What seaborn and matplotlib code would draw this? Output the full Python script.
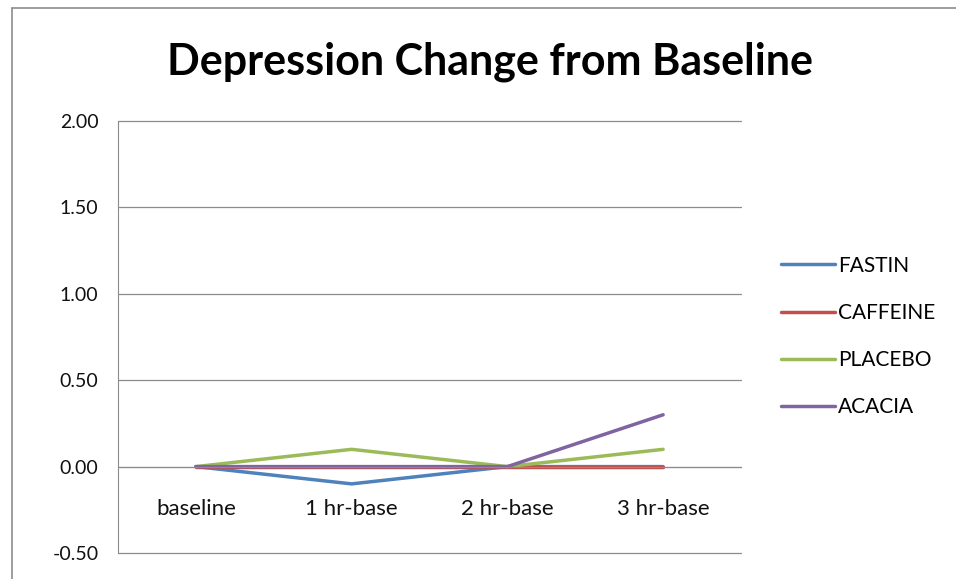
import pandas as pd
import seaborn as sns
import matplotlib.pyplot as plt
from matplotlib.lines import Line2D
from matplotlib.ticker import FixedLocator

categories = ["baseline", "1 hr-base", "2 hr-base", "3 hr-base"]
fastin = [0.0, -0.1, 0.0, 0.0]
caffeine = [0.0, 0.0, 0.0, 0.0]
placebo = [0.0, 0.1, 0.0, 0.1]
acacia = [0.0, 0.0, 0.0, 0.3]

series_names = ["FASTIN", "CAFFEINE", "PLACEBO", "ACACIA"]
series_colors = ["#4F81BD", "#C0504D", "#9BBB59", "#8064A2"]

rows = []
for name, vals in zip(series_names, [fastin, caffeine, placebo, acacia]):
    for cat, v in zip(categories, vals):
        rows.append({"time": cat, "value": v, "group": name})
df = pd.DataFrame(rows)

sns.set_style("white")
plt.rcParams["font.family"] = ["Lato", "DejaVu Sans"]
plt.rcParams["text.color"] = "black"

fig = plt.figure(figsize=(9.56, 5.79), dpi=100)
ax = fig.add_axes([0.1234, 0.0449, 0.6517, 0.7461])

sns.lineplot(data=df, x="time", y="value", hue="group", hue_order=series_names,
             palette=series_colors, linewidth=2.5, ax=ax, legend=True, sort=False)

# axes like excel: y from -0.5 to 2, category axis crossing at zero
ax.set_ylim(-0.5, 2.0)
ax.set_xlim(-0.5, 3.5)
yt = [-0.5, 0.0, 0.5, 1.0, 1.5, 2.0]
ax.set_yticks(yt)
ax.set_yticklabels([f"{v:.2f}" for v in yt])
ax.yaxis.grid(True, color="#8C8C8C", linewidth=0.9)
for gl in ax.get_ygridlines():
    gl.set_clip_on(False)
ax.set_axisbelow(True)
ax.set_xlabel("")
ax.set_ylabel("")

for s in ["top", "right"]:
    ax.spines[s].set_visible(False)
ax.spines["left"].set_color("#8C8C8C")
ax.spines["bottom"].set_color("#8C8C8C")
ax.spines["bottom"].set_position(("data", 0))

ax.set_xticks(range(len(categories)))
ax.set_xticklabels(categories)
ax.xaxis.set_minor_locator(FixedLocator([0.5, 1.5, 2.5, 3.5]))
ax.tick_params(axis="x", which="major", length=0, pad=23, labelsize=16)
ax.tick_params(axis="x", which="minor", length=6, color="#8C8C8C", direction="out")
ax.tick_params(axis="y", length=6, color="#8C8C8C", direction="out", pad=8, labelsize=14)
for lbl in ax.get_xticklabels() + ax.get_yticklabels():
    lbl.set_color("#111111")

ax.get_legend().remove()
handles = [Line2D([0], [0], color=c, linewidth=2.5) for c in series_colors]
fig.legend(handles, series_names, loc="center left", bbox_to_anchor=(0.806, 0.419),
           frameon=False, fontsize=15, handlelength=2.6, handletextpad=0.15,
           labelspacing=1.3, borderpad=0)

fig.text(490 / 956, 1 - 62 / 579, "Depression Change from Baseline",
         ha="center", va="center", fontsize=31, fontweight="bold", color="black")

# chart area border (left and top edges visible)
fig.add_artist(Line2D([12 / 956, 12 / 956], [0, 1 - 8 / 579], transform=fig.transFigure,
                      color="#8C8C8C", linewidth=1.2))
fig.add_artist(Line2D([12 / 956, 1], [1 - 8 / 579, 1 - 8 / 579], transform=fig.transFigure,
                      color="#8C8C8C", linewidth=1.2))

fig.savefig("out.png", dpi=100)
plt.close(fig)
